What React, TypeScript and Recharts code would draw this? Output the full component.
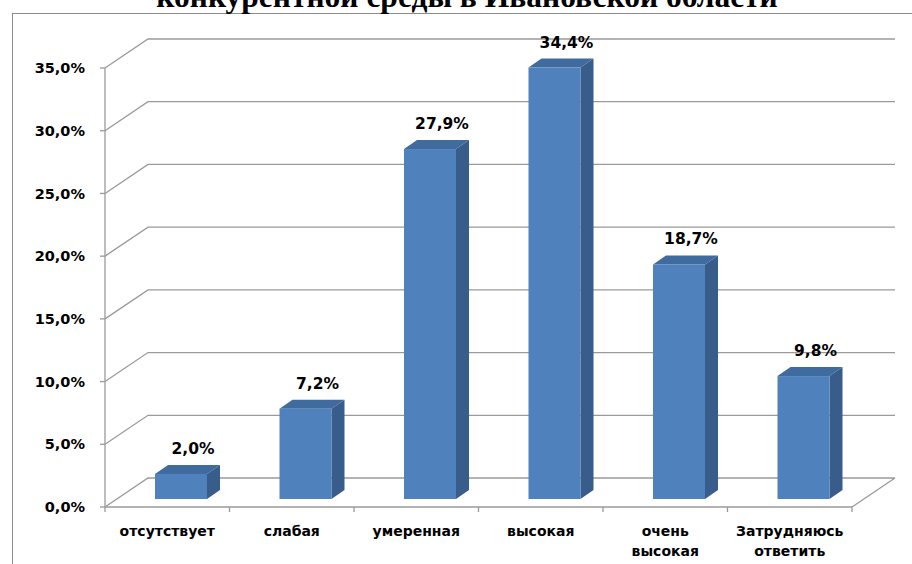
import React from 'react';
import { BarChart, Bar, XAxis, YAxis, CartesianGrid, LabelList } from 'recharts';

const categories = ['отсутствует', 'слабая', 'умеренная', 'высокая', 'очень высокая', 'Затрудняюсь ответить'];
const categoryLines = [['отсутствует'], ['слабая'], ['умеренная'], ['высокая'], ['очень', 'высокая'], ['Затрудняюсь', 'ответить']];
const shares = [2.0, 7.2, 27.9, 34.4, 18.7, 9.8];
const yTicks = [0, 5, 10, 15, 20, 25, 30, 35];

const data = categories.map((name, i) => ({ name, value: shares[i] }));

const W = 912;
const H = 564;
const PLOT_LEFT = 105;
const PLOT_RIGHT = 852;
const PLOT_TOP = 68;
const PLOT_BOTTOM = 507;
const BAND = (PLOT_RIGHT - PLOT_LEFT) / categories.length;

// 3d offsets
const BACK_DX = 43;
const BACK_DY = -29;
const BAR_DX = 14;
const BAR_DY = -8;
const SIDE_DX = 13;
const SIDE_DY = -9;

const FRONT = '#4F81BD';
const TOP = '#3F6B9F';
const SIDE = '#385D8A';
const GRID = '#9A9A9A';
const FONT = '"DejaVu Sans", "Open Sans", sans-serif';

const fmt = (v: number) => v.toFixed(1).replace('.', ',') + '%';

const gridLine = (p: any) => {
  const { x1, x2, y1 } = p;
  let d = `M${x1},${y1} L${x1 + BACK_DX},${y1 + BACK_DY} L${x2 + BACK_DX},${y1 + BACK_DY}`;
  if (Math.abs(y1 - PLOT_BOTTOM) < 1) d += ` M${x2},${y1} L${x2 + BACK_DX},${y1 + BACK_DY}`;
  return <path key={`grid-${y1}`} d={d} stroke={GRID} strokeWidth={1.3} fill="none" />;
};

const Bar3D = (props: any) => {
  const { x, y, width, height } = props;
  const fx = x + BAR_DX;
  const fy = y + BAR_DY;
  return (
    <g>
      <polygon
        points={`${fx},${fy} ${fx + SIDE_DX},${fy + SIDE_DY} ${fx + width + SIDE_DX},${fy + SIDE_DY} ${fx + width},${fy}`}
        fill={TOP}
      />
      <polygon
        points={`${fx + width},${fy} ${fx + width + SIDE_DX},${fy + SIDE_DY} ${fx + width + SIDE_DX},${fy + height + SIDE_DY} ${fx + width},${fy + height}`}
        fill={SIDE}
      />
      <rect x={fx} y={fy} width={width} height={height} fill={FRONT} />
    </g>
  );
};

const ValueLabel = (props: any) => {
  const { x, y, width, value } = props;
  return (
    <text
      x={x + BAR_DX + width / 2 + 12}
      y={y + BAR_DY - 20}
      textAnchor="middle"
      fontFamily={FONT}
      fontWeight="bold"
      fontSize={15.5}
      fill="#000"
    >
      {fmt(value)}
    </text>
  );
};

const CategoryTick = (props: any) => {
  const { payload, index } = props;
  const cx = payload.coordinate;
  const lines = categoryLines[categories.indexOf(payload.value)] || [payload.value];
  return (
    <g>
      <line x1={cx - BAND / 2} y1={PLOT_BOTTOM} x2={cx - BAND / 2} y2={PLOT_BOTTOM + 5} stroke={GRID} strokeWidth={1.3} />
      {index === categories.length - 1 && (
        <line x1={cx + BAND / 2} y1={PLOT_BOTTOM} x2={cx + BAND / 2} y2={PLOT_BOTTOM + 5} stroke={GRID} strokeWidth={1.3} />
      )}
      {lines.map((t: string, i: number) => (
        <text
          key={i}
          x={cx}
          y={PLOT_BOTTOM + 29 + i * 20}
          textAnchor="middle"
          fontFamily={FONT}
          fontWeight="bold"
          fontSize={14}
          fill="#000"
        >
          {t}
        </text>
      ))}
    </g>
  );
};

export default function App() {
  return (
    <div style={{ position: 'absolute', left: 0, top: 0, width: W, height: H, overflow: 'hidden', background: '#fff' }}>
      <div
        style={{
          position: 'absolute',
          left: 12,
          top: 13,
          width: W,
          height: H,
          border: '1px solid #8C8C8C',
        }}
      />
      <div
        style={{
          position: 'absolute',
          left: 0,
          top: -19,
          width: 934,
          textAlign: 'center',
          fontFamily: '"Liberation Serif", "Times New Roman", serif',
          fontWeight: 'bold',
          fontSize: 31.5,
          lineHeight: '32px',
          whiteSpace: 'nowrap',
        }}
      >
        конкурентной среды в Ивановской области
      </div>
      <div style={{ position: 'absolute', left: 0, top: 0 }}>
        <BarChart
          width={W}
          height={H}
          data={data}
          margin={{ top: PLOT_TOP, right: W - PLOT_RIGHT, left: 0, bottom: 0 }}
          barSize={52}
        >
          <CartesianGrid vertical={false} horizontal={gridLine} />
          <XAxis
            dataKey="name"
            height={H - PLOT_BOTTOM}
            axisLine={{ stroke: GRID, strokeWidth: 1.3 }}
            tickLine={false}
            tick={<CategoryTick />}
            interval={0}
          />
          <YAxis
            width={PLOT_LEFT}
            domain={[0, 35]}
            ticks={yTicks}
            interval={0}
            axisLine={{ stroke: GRID, strokeWidth: 1.3 }}
            tickLine={{ stroke: GRID, strokeWidth: 1.3 }}
            tickSize={5}
            tickMargin={15}
            tickFormatter={(v: number) => fmt(v)}
            tick={{ fill: '#000', fontFamily: FONT, fontWeight: 'bold', fontSize: 14.5 }}
          />
          <Bar dataKey="value" shape={<Bar3D />} isAnimationActive={false}>
            <LabelList dataKey="value" content={<ValueLabel />} />
          </Bar>
        </BarChart>
      </div>
    </div>
  );
}
